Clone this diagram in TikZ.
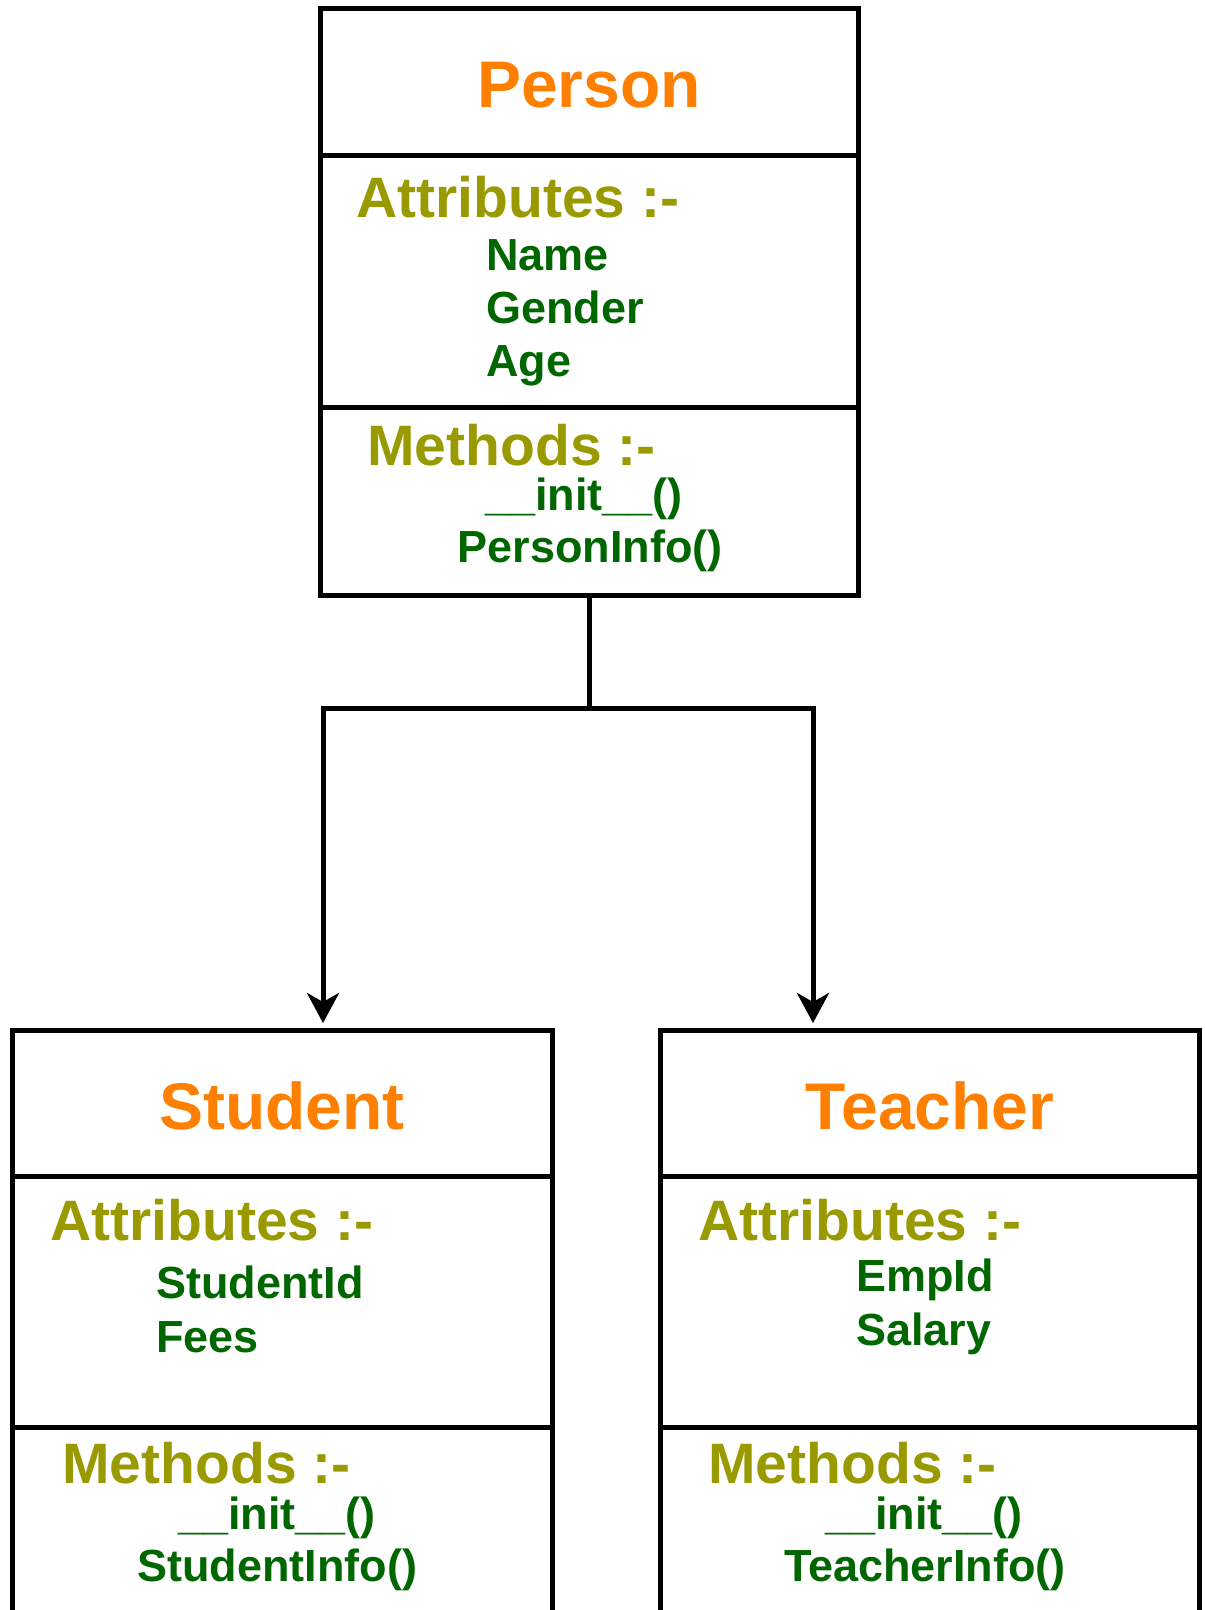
\documentclass[tikz,border=0pt]{standalone}
\usepackage{fontspec}
\setmainfont{Liberation Sans}
\usetikzlibrary{arrows.meta}
\definecolor{titleor}{HTML}{FF8000}
\definecolor{headol}{HTML}{999900}
\definecolor{itemgr}{HTML}{006600}
\begin{document}
\begin{tikzpicture}[x=0.5pt,y=-0.5pt,
 classbox/.style={draw=black, line width=2.5pt, inner sep=0pt, outer sep=0pt, anchor=north west},
 divider/.style={line width=2.5pt},
 titletext/.style={inner sep=0pt, anchor=base, text=titleor, font=\bfseries\fontsize{33}{36}\selectfont},
 headtext/.style={inner sep=0pt, anchor=base west, text=headol, font=\bfseries\fontsize{28.5}{32}\selectfont},
 itemtext/.style={inner sep=0pt, anchor=base west, text=itemgr, font=\bfseries\fontsize{22.5}{26}\selectfont},
 methtext/.style={itemtext, anchor=base},
 link/.style={line width=2.5pt},
 arrowlink/.style={link, -{Stealth[length=15pt,width=16pt,inset=4.5pt]}, shorten >=3.5pt}]
\useasboundingbox (0,0) rectangle (1204,1610);
\clip (0,0) rectangle (1204,1610);

% boxes
\node[classbox, minimum width=269pt, minimum height=293pt] (person) at (320,9) {};
\node[classbox, minimum width=270pt, minimum height=300pt] (student) at (12,1030) {};
\node[classbox, minimum width=269.5pt, minimum height=300pt] (teacher) at (660,1030) {};

% dividers
\draw[divider] (320,156) -- (858,156);
\draw[divider] (320,407) -- (858,407);
\draw[divider] (12,1176) -- (552,1176);
\draw[divider] (12,1427) -- (552,1427);
\draw[divider] (660,1176) -- (1199,1176);
\draw[divider] (660,1427) -- (1199,1427);

% connectors
\coordinate (junction) at (589,708);
\coordinate (lcorner) at (323,708);
\coordinate (rcorner) at (813,708);
\draw[link] (person.south) -- (junction);
\draw[arrowlink] (junction) -- (lcorner) -- (lcorner |- student.north);
\draw[arrowlink] (junction) -- (rcorner) -- (rcorner |- teacher.north);

% Person texts
\node[titletext] (ptitle) at (589,108) {Person};
\node[headtext] (pattr) at (356,218) {Attributes :-};
\node[itemtext] (pname) at (486,271) {Name};
\node[itemtext] (pgender) at (486,324) {Gender};
\node[itemtext] (page) at (486,377) {Age};
\node[headtext] (pmeth) at (367,465) {Methods :-};
\node[methtext] (pinit) at (584,510) {\_\_init\_\_()};
\node[methtext] (pinfo) at (590,562) {PersonInfo()};

% Student texts
\node[titletext] (stitle) at (282,1129) {Student};
\node[headtext] (sattr) at (50,1240) {Attributes :-};
\node[itemtext] (sid) at (156,1298) {StudentId};
\node[itemtext] (sfees) at (156,1352) {Fees};
\node[headtext] (smeth) at (62,1483) {Methods :-};
\node[methtext] (sinit) at (277,1529) {\_\_init\_\_()};
\node[methtext] (sinfo) at (277,1581) {StudentInfo()};

% Teacher texts
\node[titletext] (ttitle) at (930,1129) {Teacher};
\node[headtext] (tattr) at (698,1240) {Attributes :-};
\node[itemtext] (tid) at (856,1291) {EmpId};
\node[itemtext] (tsal) at (856,1345) {Salary};
\node[headtext] (tmeth) at (708,1483) {Methods :-};
\node[methtext] (tinit) at (924,1529) {\_\_init\_\_()};
\node[methtext] (tinfo) at (925,1581) {TeacherInfo()};
\end{tikzpicture}
\end{document}
